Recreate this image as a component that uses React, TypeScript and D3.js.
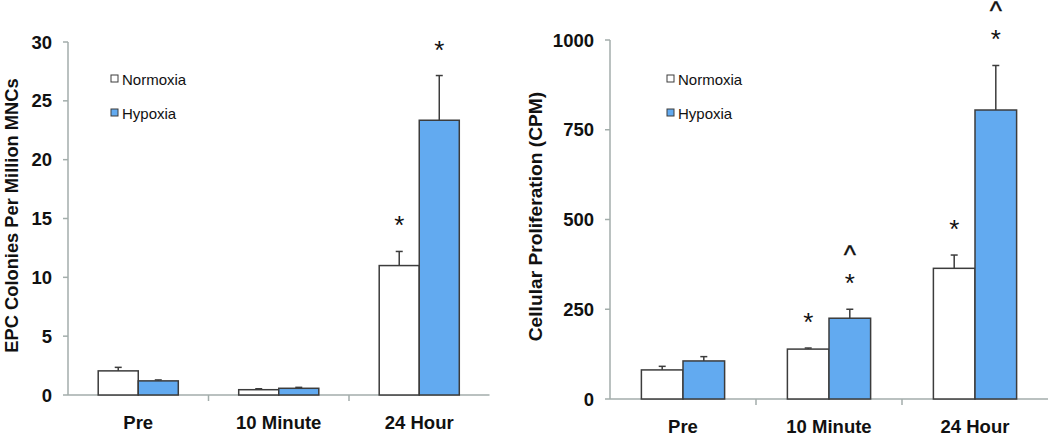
import React from "react";
import * as d3 from "d3";

const categories = ["Pre", "10 Minute", "24 Hour"];
const seriesNames = ["Normoxia", "Hypoxia"];

const epcNormoxia = [2.05, 0.45, 11.0];
const epcNormoxiaErr = [0.3, 0.08, 1.2];
const epcHypoxia = [1.2, 0.57, 23.35];
const epcHypoxiaErr = [0.08, 0.08, 3.8];
const epcTicks = [0, 5, 10, 15, 20, 25, 30];

const cpmNormoxia = [81, 139, 364];
const cpmNormoxiaErr = [10, 3, 37];
const cpmHypoxia = [106, 225, 805];
const cpmHypoxiaErr = [12, 25, 124];
const cpmTicks = [0, 250, 500, 750, 1000];

const epcMarks = [
  { cat: 2, series: 0, marks: ["*"] },
  { cat: 2, series: 1, marks: ["*"] },
];
const cpmMarks = [
  { cat: 1, series: 0, marks: ["*"] },
  { cat: 1, series: 1, marks: ["*", "^"] },
  { cat: 2, series: 0, marks: ["*"] },
  { cat: 2, series: 1, marks: ["*", "^"] },
];

const FILLS = ["#ffffff", "#62aaf0"];
const AXIS = "#a3adab";
const STROKE = "#3c3c3c";
const FONT = "'Liberation Sans', Arial, sans-serif";

type PanelProps = {
  x0: number; x1: number; y0: number; y1: number; max: number;
  ticks: number[]; values: number[][]; errs: number[][];
  marks: { cat: number; series: number; marks: string[] }[];
  title: string; titleX: number; titleSize: number; legendX: number;
};

function Panel(p: PanelProps) {
  const x = d3.scaleBand<string>().domain(categories).range([p.x0, p.x1]).paddingInner(0.43).paddingOuter(0.215);
  const inner = d3.scaleBand<number>().domain([0, 1]).range([0, x.bandwidth()]);
  const y = d3.scaleLinear().domain([0, p.max]).range([p.y0, p.y1]);
  const step = x.step();
  const bw = inner.bandwidth();
  return (
    <g>
      {/* y axis */}
      <line x1={p.x0} x2={p.x0} y1={p.y0} y2={y(p.max)} stroke={AXIS} strokeWidth={1.5} />
      {p.ticks.map((t) => (
        <g key={t}>
          <line x1={p.x0 - 5} x2={p.x0} y1={y(t)} y2={y(t)} stroke={AXIS} strokeWidth={1.5} />
          <text x={p.x0 - 16} y={y(t)} textAnchor="end" dominantBaseline="central" fontFamily={FONT} fontWeight="bold" fontSize={18.5} fill="#111">{t}</text>
        </g>
      ))}
      {/* x axis */}
      <line x1={p.x0} x2={p.x1} y1={p.y0} y2={p.y0} stroke={AXIS} strokeWidth={1.5} />
      {[1, 2].map((i) => (
        <line key={i} x1={p.x0 + i * step} x2={p.x0 + i * step} y1={p.y0} y2={p.y0 + 6} stroke={AXIS} strokeWidth={1.5} />
      ))}
      {categories.map((c) => (
        <text key={c} x={(x(c) as number) + x.bandwidth() / 2} y={p.y0 + 34} textAnchor="middle" fontFamily={FONT} fontWeight="bold" fontSize={18.5} fill="#111">{c}</text>
      ))}
      {/* bars */}
      {p.values.map((vals, s) =>
        vals.map((v, i) => {
          const bx = (x(categories[i]) as number) + (inner(s) as number);
          const cx = bx + bw / 2;
          const top = y(v + p.errs[s][i]);
          return (
            <g key={s + "-" + i}>
              <line x1={cx} x2={cx} y1={y(v)} y2={top} stroke={STROKE} strokeWidth={1.5} />
              <line x1={cx - 3.5} x2={cx + 3.5} y1={top} y2={top} stroke={STROKE} strokeWidth={1.5} />
              <rect x={bx} y={y(v)} width={bw} height={p.y0 - y(v)} fill={FILLS[s]} stroke={STROKE} strokeWidth={1.5} />
            </g>
          );
        })
      )}
      {/* significance marks */}
      {p.marks.map((m, k) => {
        const v = p.values[m.series][m.cat] + p.errs[m.series][m.cat];
        const cx = (x(categories[m.cat]) as number) + (inner(m.series) as number) + bw / 2;
        const starCenter = y(v) - 32;
        return (
          <g key={k}>
            {m.marks.map((s, j) =>
              s === "*" ? (
                <text key={j} x={cx} y={starCenter + 15} textAnchor="middle" fontFamily={FONT} fontSize={26} fill="#111">*</text>
              ) : (
                <text key={j} x={cx} y={starCenter - 27 + 13.5} textAnchor="middle" fontFamily={FONT} fontSize={26} fill="#111" stroke="#111" strokeWidth={0.4}>^</text>
              )
            )}
          </g>
        );
      })}
      {/* y title */}
      <text transform={`translate(${p.titleX},${(p.y0 + y(p.max)) / 2 - 3}) rotate(-90)`} textAnchor="middle" dominantBaseline="central" fontFamily={FONT} fontWeight="bold" fontSize={p.titleSize} fill="#111">{p.title}</text>
      {/* legend */}
      {seriesNames.map((n, i) => (
        <g key={n}>
          <rect x={p.legendX} y={75 + i * 34} width={7} height={7} fill={FILLS[i]} stroke={STROKE} strokeWidth={1} />
          <text x={p.legendX + 11} y={79 + i * 34} dominantBaseline="central" fontFamily={FONT} fontSize={15} fill="#111">{n}</text>
        </g>
      ))}
    </g>
  );
}

export default function App() {
  return (
    <svg width={1050} height={435} style={{ position: "absolute", left: 0, top: 0, background: "#fff" }}>
      <Panel x0={68} x1={489.5} y0={395} y1={42} max={30} ticks={epcTicks}
        values={[epcNormoxia, epcHypoxia]} errs={[epcNormoxiaErr, epcHypoxiaErr]}
        marks={epcMarks} title="EPC Colonies Per Million MNCs" titleX={11} titleSize={18.3} legendX={111} />
      <Panel x0={610} x1={1048} y0={399} y1={40} max={1000} ticks={cpmTicks}
        values={[cpmNormoxia, cpmHypoxia]} errs={[cpmNormoxiaErr, cpmHypoxiaErr]}
        marks={cpmMarks} title="Cellular Proliferation (CPM)" titleX={535} titleSize={19.2} legendX={667} />
    </svg>
  );
}
